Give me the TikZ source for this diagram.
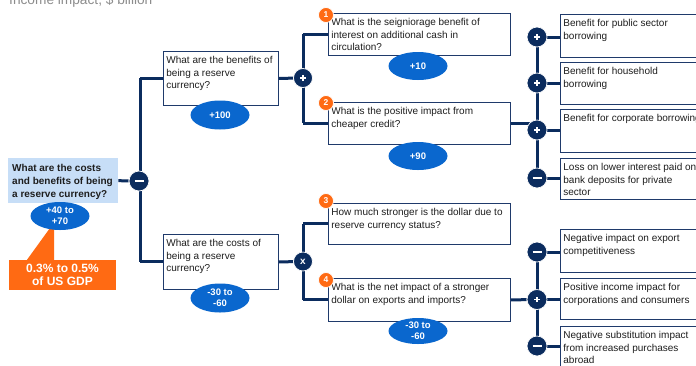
\documentclass[tikz,border=0pt]{standalone}
\usepackage{fontspec}
\setmainfont{Liberation Sans}
\usetikzlibrary{shapes.geometric}
\definecolor{navy}{HTML}{0B2C5E}
\definecolor{boxline}{HTML}{1F3A6B}
\definecolor{vblue}{HTML}{0A67CE}
\definecolor{lblue}{HTML}{C7DEF7}
\definecolor{orng}{HTML}{FF6A13}
\definecolor{ttl}{HTML}{8C8C8C}
\definecolor{txt}{HTML}{1E1E1E}
\newcommand{\qtext}[3]{\parbox[t][#2][t]{#1}{\vspace*{2.2pt}\raggedright #3}}
\pgfdeclarelayer{bg}
\pgfsetlayers{bg,main}
\tikzset{
  qbox/.style={draw=boxline, line width=0.8pt, fill=white, inner sep=3pt, anchor=north west,
    text=txt, font=\fontsize{10}{12.2}\selectfont},
  rootbox/.style={fill=lblue, inner sep=4pt, anchor=north west, text=txt,
    font=\bfseries\fontsize{10}{13}\selectfont},
  val/.style={ellipse, fill=vblue, text=white, inner sep=0pt, minimum width=59pt, minimum height=29pt,
    align=center, font=\bfseries\fontsize{9.5}{11}\selectfont},
  opc/.style={circle, fill=navy, draw=white, line width=0.7pt, minimum size=20pt, inner sep=0pt,
    text=white, font=\bfseries\fontsize{10}{10}\selectfont},
  opminus/.style={opc, path picture={\draw[white, line width=1.6pt]
    ([xshift=-4.5pt]path picture bounding box.center) -- ([xshift=4.5pt]path picture bounding box.center);}},
  opplus/.style={opc, path picture={\draw[white, line width=1.3pt]
    ([xshift=-2.6pt]path picture bounding box.center) -- ([xshift=2.6pt]path picture bounding box.center)
    ([yshift=-2.6pt]path picture bounding box.center) -- ([yshift=2.6pt]path picture bounding box.center);}},
  badge/.style={circle, fill=orng, draw=white, line width=0.7pt, minimum size=15pt, inner sep=0pt,
    text=white, font=\bfseries\fontsize{8.5}{9}\selectfont},
  conn/.style={draw=navy, line width=3pt},
}
\begin{document}
\begin{tikzpicture}[x=1pt, y=-1pt]
\useasboundingbox (0,0) rectangle (696,365);
\node[anchor=base west, text=ttl, inner sep=0pt, font=\fontsize{13.7}{15}\selectfont] (title) at (9,4) {Income impact, \$ billion};

% root
\node[rootbox] (R) at (8,158) {\qtext{102pt}{37pt}{What are the costs\\and benefits of being\\a reserve currency?}};
\node[val, minimum height=28pt] (E0) at (60,216) {+40 to\\+70};
\node[fill=orng, text=white, minimum width=107pt, minimum height=30pt, inner sep=0pt, align=center,
  font=\bfseries\fontsize{12}{13.5}\selectfont] (G) at (62.5,275) {0.3\% to 0.5\%\\of US GDP};
\coordinate (GA) at (50,228);
\coordinate (GB) at (54,228);

% level 1
\node[qbox] (B) at (163,51) {\qtext{109pt}{48pt}{What are the benefits of\\being a reserve\\currency?}};
\node[qbox] (C) at (163,234) {\qtext{109pt}{49pt}{What are the costs of\\being a reserve\\currency?}};
\node[val] (E1) at (220,115) {+100};
\node[val] (E2) at (220,298) {-30 to\\-60};

% level 2
\node[qbox] (Q1) at (328,13) {\qtext{176pt}{36pt}{What is the seigniorage benefit of\\interest on additional cash in\\circulation?}};
\node[qbox] (Q2) at (328,102) {\qtext{176pt}{36pt}{What is the positive impact from\\cheaper credit?}};
\node[qbox] (Q3) at (328,203) {\qtext{176pt}{35pt}{How much stronger is the dollar due to\\reserve currency status?}};
\node[qbox] (Q4) at (328,278) {\qtext{176pt}{37pt}{What is the net impact of a stronger\\dollar on exports and imports?}};
\node[val, minimum height=28pt] (E3) at (418,66) {+10};
\node[val, minimum height=28pt] (E4) at (418,156) {+90};
\node[val, minimum height=26pt] (E5) at (418,331) {-30 to\\-60};
\node[badge] (N1) at (326,15) {1};
\node[badge] (N2) at (326,103) {2};
\node[badge] (N3) at (326,201) {3};
\node[badge] (N4) at (326,280) {4};

% level 3
\node[qbox] (U1) at (560,14) {\qtext{164pt}{37pt}{Benefit for public sector\\borrowing}};
\node[qbox] (U2) at (560,62) {\qtext{164pt}{36pt}{Benefit for household\\borrowing}};
\node[qbox] (U3) at (560,109) {\qtext{164pt}{37pt}{Benefit for corporate borrowing}};
\node[qbox] (U4) at (560,158) {\qtext{164pt}{35pt}{Loss on lower interest paid on\\bank deposits for private\\sector}};
\node[qbox] (V1) at (560,229) {\qtext{164pt}{37pt}{Negative impact on export\\competitiveness}};
\node[qbox] (V2) at (560,278) {\qtext{164pt}{35pt}{Positive income impact for\\corporations and consumers}};
\node[qbox] (V3) at (560,326) {\qtext{164pt}{37pt}{Negative substitution impact\\from increased purchases\\abroad}};

% operators
\node[opminus] (M0) at (139,181) {};
\node[opplus, minimum size=19pt] (P1) at (303,78) {};
\node[opc, minimum size=19pt] (X1) at (303,261.5) {x};
\node[opplus] (S1) at (537,37) {};
\node[opplus] (S2) at (537,83) {};
\node[opplus] (S3) at (537,130) {};
\node[opminus] (S4) at (537,178) {};
\node[opminus] (T1) at (537,252) {};
\node[opplus] (T2) at (537,299.5) {};
\node[opminus] (T3) at (537,346) {};

\begin{pgfonlayer}{bg}
  \fill[white] (0,0) rectangle (696,365);
  \fill[orng] (GA) -- (GB) -- (GB |- G.north) -- ([xshift=-27pt]GB |- G.north) -- cycle;
  \draw[conn] (R.east) -- (M0);
  \draw[conn] ([xshift=1pt]M0.center |- B.west) -- ([xshift=1pt]M0.center |- C.west);
  \draw[conn] ([xshift=1pt]M0.center |- B.west) -- (B.west);
  \draw[conn] ([xshift=1pt]M0.center |- C.west) -- (C.west);
  \draw[conn] (B.east) -- (P1);
  \draw[conn] (P1 |- Q1.west) -- (P1 |- Q2.west);
  \draw[conn] (P1 |- Q1.west) -- (Q1.west);
  \draw[conn] (P1 |- Q2.west) -- (Q2.west);
  \draw[conn] (C.east) -- (X1);
  \draw[conn] (X1 |- Q3.west) -- (X1 |- Q4.west);
  \draw[conn] (X1 |- Q3.west) -- (Q3.west);
  \draw[conn] (X1 |- Q4.west) -- (Q4.west);
  \draw[conn] (Q2.east) -- (Q2.east -| S3);
  \draw[conn] (S1) -- (S4);
  \draw[conn] (S1) -- (S1 -| U1.west);
  \draw[conn] (S2) -- (S2 -| U2.west);
  \draw[conn] (S3) -- (S3 -| U3.west);
  \draw[conn] (S4) -- (S4 -| U4.west);
  \draw[conn] (Q4.east) -- (T2);
  \draw[conn] (T1) -- (T3);
  \draw[conn] (T1) -- (T1 -| V1.west);
  \draw[conn] (T2) -- (T2 -| V2.west);
  \draw[conn] (T3) -- (T3 -| V3.west);
\end{pgfonlayer}
\end{tikzpicture}
\end{document}
